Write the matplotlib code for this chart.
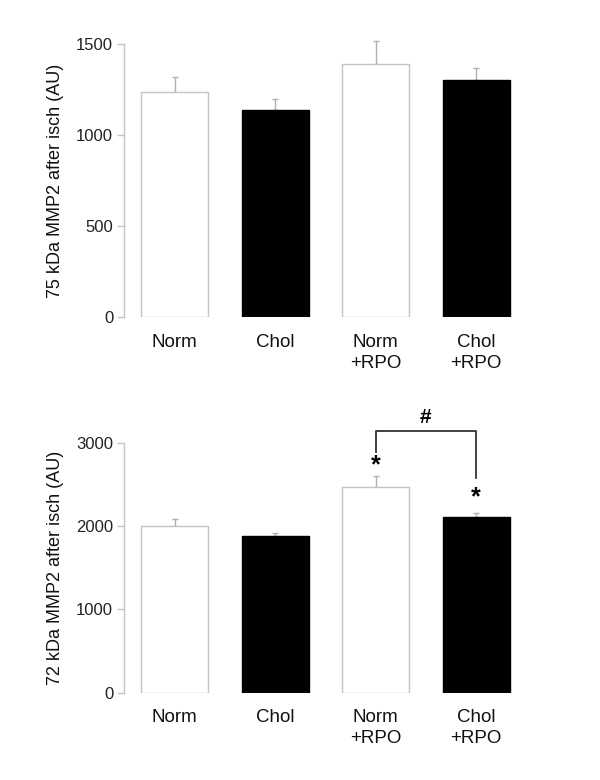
import matplotlib
matplotlib.use("Agg")
import matplotlib.pyplot as plt
from matplotlib import font_manager

categories = ["Norm", "Chol", "Norm\n+RPO", "Chol\n+RPO"]
fill_colors = ["white", "black", "white", "black"]

top_values = [1236, 1139, 1390, 1300]
top_errors = [84, 59, 126, 66]
top_ticks = [0, 500, 1000, 1500]
top_ylabel = "75 kDa MMP2 after isch (AU)"

bot_values = [2004, 1880, 2472, 2108]
bot_errors = [77, 40, 132, 52]
bot_ticks = [0, 1000, 2000, 3000]
bot_ylabel = "72 kDa MMP2 after isch (AU)"

star_idx = [2, 3]
bracket = (2, 3)

names = {f.name for f in font_manager.fontManager.ttflist}
narrow = "Liberation Sans Narrow" if "Liberation Sans Narrow" in names else "Liberation Sans"
plt.rcParams["font.family"] = ["Liberation Sans", "DejaVu Sans"]

fig = plt.figure(figsize=(6, 7.8), dpi=100)
ax1 = fig.add_axes([0.2072, 0.5932, 0.67, 0.3504])
ax2 = fig.add_axes([0.2072, 0.1119, 0.67, 0.3205])

edge_gray = "#c4c4c4"


def draw(ax, values, errors, ticks, ylabel):
    x = list(range(len(values)))
    ax.bar(x, values, width=0.667, color=fill_colors, edgecolor=[edge_gray if c == "white" else "black" for c in fill_colors],
           linewidth=1.0, zorder=2)
    ax.errorbar(x, values, yerr=[[0] * len(errors), errors], fmt="none", ecolor="#b0b0b0",
                elinewidth=1.0, capsize=2.5, capthick=1.0, zorder=1, clip_on=False)
    ax.set_xlim(-0.5, 3.5)
    ax.set_ylim(ticks[0], ticks[-1])
    for s in ["top", "right", "bottom"]:
        ax.spines[s].set_visible(False)
    ax.spines["left"].set_color(edge_gray)
    ax.spines["left"].set_linewidth(1.0)
    ax.set_yticks(ticks)
    ax.set_yticklabels([str(t) for t in ticks], fontfamily=narrow, fontsize=12, color="#222222")
    ax.tick_params(axis="y", length=5, width=1.0, color=edge_gray, pad=3)
    ax.set_xticks(x)
    ax.set_xticklabels(categories, fontsize=13.5, color="#111111", linespacing=1.3)
    ax.tick_params(axis="x", length=0, pad=12)
    ax.set_ylabel(ylabel, fontfamily=narrow, fontsize=13, color="#111111", labelpad=9)


draw(ax1, top_values, top_errors, top_ticks, top_ylabel)
draw(ax2, bot_values, bot_errors, bot_ticks, bot_ylabel)

# significance marks on bottom panel
star_y = [2732, 2345]
for i, yv in zip(star_idx, star_y):
    ax2.text(i, yv, "*", ha="center", va="center", fontsize=18, fontweight="bold", color="black")

l, r = bracket
ax2.plot([l, l, r, r], [2892, 3144, 3144, 2573], color="#333333", linewidth=1.3, clip_on=False)
ax2.text((l + r) / 2, 3300, "#", ha="center", va="center", fontsize=15, fontweight="bold", color="black")

fig.savefig("out.png", dpi=100, facecolor="white")
